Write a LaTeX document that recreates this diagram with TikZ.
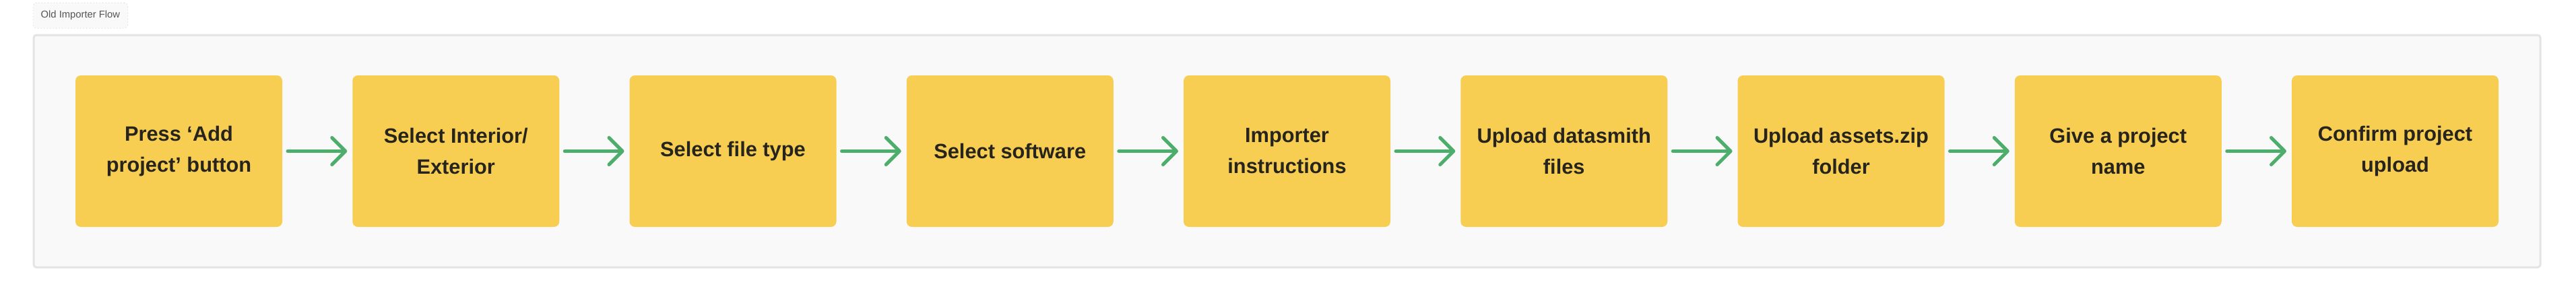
\documentclass[tikz,border=0pt]{standalone}
\usepackage{fontspec}
\setmainfont{Liberation Sans}
\usepackage{tikz}
\usetikzlibrary{arrows.meta, positioning, fit, backgrounds}
\tikzset{
    flowstep/.style={rectangle, fill=stepyellow, rounded corners=0.08cm, minimum width=3.07cm, minimum height=2.25cm, align=center, font=\fontsize{8.76}{13.1}\selectfont\bfseries, text=stepink, inner sep=0pt, outer sep=0pt},
    flowarrow/.style={-{Straight Barb[length=0.2cm, width=0.4cm, round]}, draw=arrowgreen, line width=0.05cm, line cap=round, shorten <=0.08cm, shorten >=0.08cm},
    flowframe/.style={rectangle, fill=framefill, draw=frameline, line width=0.03cm, rounded corners=0.04cm, inner xsep=0.62cm, inner ysep=0.6cm},
    flowtag/.style={rectangle, fill=framefill, draw=tagline, densely dotted, rounded corners=0.05cm, line width=0.01cm, minimum width=1.34cm, minimum height=0.38cm, font=\fontsize{4.2}{5}\selectfont, text=tagink}
}
\definecolor{stepyellow}{RGB}{247,206,82}
\definecolor{stepink}{RGB}{38,36,28}
\definecolor{arrowgreen}{RGB}{76,174,106}
\definecolor{framefill}{RGB}{249,249,249}
\definecolor{frameline}{RGB}{228,228,228}
\definecolor{tagline}{RGB}{215,215,215}
\definecolor{tagink}{RGB}{85,85,85}

\begin{document}
\begin{tikzpicture}[node distance=1.0425cm]
\useasboundingbox (0,0) rectangle (38.24,4.52);

\node[flowstep] (s1) at (2.655,2.275) {Press ‘Add\\project’ button};
\node[flowstep, right=of s1] (s2) {Select Interior/\\Exterior};
\node[flowstep, right=of s2] (s3) {Select file type};
\node[flowstep, right=of s3] (s4) {Select software};
\node[flowstep, right=of s4] (s5) {Importer\\instructions};
\node[flowstep, right=of s5] (s6) {Upload datasmith\\files};
\node[flowstep, right=of s6] (s7) {Upload assets.zip\\folder};
\node[flowstep, right=of s7] (s8) {Give a project\\name};
\node[flowstep, right=of s8] (s9) {Confirm project\\upload};

\begin{scope}[on background layer]
\node[flowframe, fit=(s1)(s9)] (frame) {};
\end{scope}
\node[flowtag, above right=0.08cm and 0cm of frame.north west] (tag) {Old Importer Flow};

\draw[flowarrow] (s1) -- (s2);
\draw[flowarrow] (s2) -- (s3);
\draw[flowarrow] (s3) -- (s4);
\draw[flowarrow] (s4) -- (s5);
\draw[flowarrow] (s5) -- (s6);
\draw[flowarrow] (s6) -- (s7);
\draw[flowarrow] (s7) -- (s8);
\draw[flowarrow] (s8) -- (s9);

\end{tikzpicture}
\end{document}
